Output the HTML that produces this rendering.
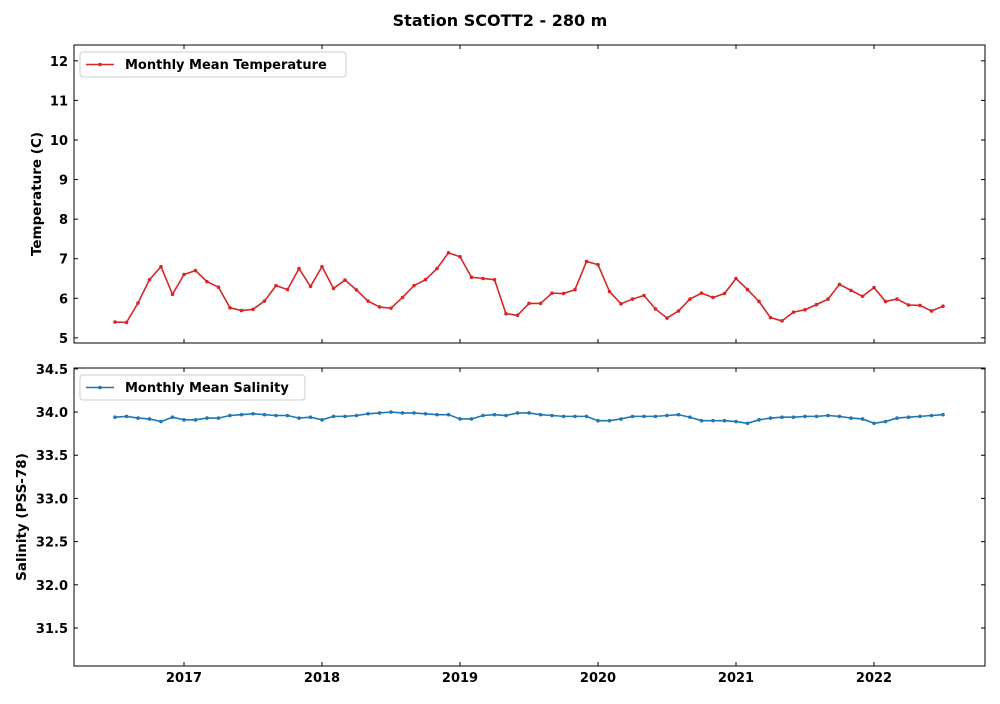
<!DOCTYPE html>
<html><head><meta charset="utf-8"><style>
body{margin:0;background:#fff;font-family:"DejaVu Sans",sans-serif}
svg text{font-family:"DejaVu Sans","Liberation Sans",sans-serif;font-weight:bold}
</style></head><body>
<svg id="c" width="1000" height="700"></svg>
<script>
const temps=[5.40,5.39,5.88,6.47,6.80,6.10,
6.60,6.70,6.42,6.28,5.76,5.69,5.72,5.93,6.32,6.22,6.75,6.30,
6.80,6.25,6.46,6.21,5.93,5.78,5.75,6.02,6.32,6.47,6.75,7.15,
7.05,6.53,6.50,6.47,5.61,5.57,5.87,5.87,6.13,6.12,6.22,6.93,
6.85,6.17,5.86,5.98,6.07,5.73,5.50,5.68,5.98,6.13,6.02,6.12,
6.50,6.22,5.92,5.51,5.43,5.65,5.71,5.84,5.98,6.35,6.20,6.05,
6.27,5.92,5.98,5.83,5.82,5.68,5.80];
const sal=[33.94,33.95,33.93,33.92,33.89,33.94,
33.91,33.91,33.93,33.93,33.96,33.97,33.98,33.97,33.96,33.96,33.93,33.94,
33.91,33.95,33.95,33.96,33.98,33.99,34.00,33.99,33.99,33.98,33.97,33.97,
33.92,33.92,33.96,33.97,33.96,33.99,33.99,33.97,33.96,33.95,33.95,33.95,
33.90,33.90,33.92,33.95,33.95,33.95,33.96,33.97,33.94,33.90,33.90,33.90,
33.89,33.87,33.91,33.93,33.94,33.94,33.95,33.95,33.96,33.95,33.93,33.92,
33.87,33.89,33.93,33.94,33.95,33.96,33.97];
const startYear=2016.5;
const yearTicks=[2017,2018,2019,2020,2021,2022];
const tempTicks=[5,6,7,8,9,10,11,12];
const salTicks=[31.5,32.0,32.5,33.0,33.5,34.0,34.5];
const NS="http://www.w3.org/2000/svg";
const svg=document.getElementById('c');
function el(t,a,p){const e=document.createElementNS(NS,t);for(const k in a)e.setAttribute(k,a[k]);(p||svg).appendChild(e);return e;}
const X=v=>184+(v-2017)*138;
const L=74,R=985;
function panel(top,bot,y0,y1,ticks,dec,vals,color,label,ytitle,name,showX,legW,titleX){
  const Y=v=>bot-(v-y0)/(y1-y0)*(bot-top);
  const g=el('g',{});
  
  
  ticks.forEach(t=>{const y=Y(t);
    el('line',{x1:L,x2:L+4,y1:y,y2:y,stroke:'#000'},g);
    el('line',{x1:R,x2:R-4,y1:y,y2:y,stroke:'#000'},g);
    const tx=el('text',{x:L-6,y:y+5,'text-anchor':'end','font-size':13},g);tx.textContent=t.toFixed(dec);
    });
  yearTicks.forEach(yr=>{const x=X(yr);
    el('line',{x1:x,x2:x,y1:bot,y2:bot-4,stroke:'#000'},g);
    el('line',{x1:x,x2:x,y1:top,y2:top+4,stroke:'#000'},g);
    if(showX){const tx=el('text',{x:x,y:bot+16,'text-anchor':'middle','font-size':13},g);tx.textContent=yr;
      }});
  const pts=vals.map((v,i)=>[X(startYear+i/12),Y(v)]);
  const pl=el('polyline',{points:pts.map(p=>p.join(',')).join(' '),fill:'none',stroke:color,'stroke-width':1.6},g);
  
  pts.forEach(p=>{const c=el('circle',{cx:p[0],cy:p[1],r:1.8,fill:color},g);
    });
  el('rect',{x:L,y:top,width:R-L,height:bot-top,fill:'none',stroke:'#000','stroke-width':1},g);
  const lg=el('g',{},g);
  
  el('rect',{x:80,y:top+7,width:legW,height:25,rx:3,fill:'#fff',stroke:'#ccc'},lg);
  el('line',{x1:86,x2:114,y1:top+19.5,y2:top+19.5,stroke:color,'stroke-width':1.6},lg);
  el('circle',{cx:100,cy:top+19.5,r:1.8,fill:color},lg);
  const lt=el('text',{x:125,y:top+24,'font-size':13},lg);lt.textContent=label;
  const yt=el('text',{x:0,y:0,'font-size':13.5,'text-anchor':'middle',transform:`translate(${titleX},${(top+bot)/2}) rotate(-90)`},g);
  yt.textContent=ytitle;
}
panel(45,343,4.87,12.40,tempTicks,0,temps,'#d62728','Monthly Mean Temperature','Temperature (C)','temperature',false,266,41);
panel(368,666,31.06,34.51,salTicks,1,sal,'#1f77b4','Monthly Mean Salinity','Salinity (PSS-78)','salinity',true,225,26);
const t=el('text',{x:500,y:26,'text-anchor':'middle','font-size':16});
t.textContent='Station SCOTT2 - 280 m';


</script>
</body></html>
